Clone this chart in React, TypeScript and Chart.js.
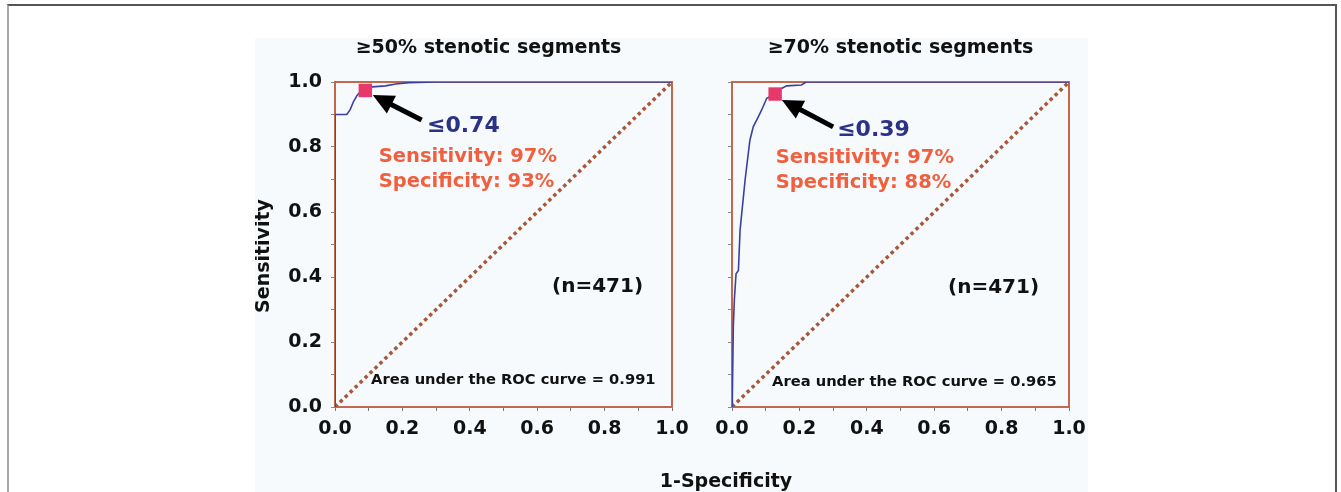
import React, { useEffect, useRef } from "react";
import { Chart, registerables } from "chart.js";

Chart.register(...registerables);

const FONT = "'DejaVu Sans', Verdana, sans-serif";

// ---------- data ----------
const tickValues = [0, 0.2, 0.4, 0.6, 0.8, 1.0];
const tickLabels = ["0.0", "0.2", "0.4", "0.6", "0.8", "1.0"];

const panelTitles = ["≥50% stenotic segments", "≥70% stenotic segments"];

const roc50X = [0, 0, 0.035, 0.045, 0.055, 0.065, 0.075, 0.09, 0.11, 0.15, 0.18, 0.22, 0.3, 1.0];
const roc50Y = [0, 0.9, 0.9, 0.915, 0.94, 0.958, 0.97, 0.975, 0.985, 0.988, 0.994, 0.998, 1.0, 1.0];

const roc70X = [0, 0.001, 0.004, 0.007, 0.012, 0.019, 0.024, 0.039, 0.053, 0.063, 0.078, 0.088, 0.103, 0.128, 0.147, 0.162, 0.206, 0.22, 1.0];
const roc70Y = [0, 0.03, 0.25, 0.33, 0.41, 0.42, 0.545, 0.7, 0.82, 0.862, 0.893, 0.914, 0.95, 0.963, 0.98, 0.988, 0.991, 1.0, 1.0];

const diagonalX = [0, 1];
const diagonalY = [0, 1];

const cutoffPointX = [0.09, 0.128];
const cutoffPointY = [0.974, 0.963];

const cutoffLabels = ["≤0.74", "≤0.39"];
const sensitivityLabels = ["Sensitivity: 97%", "Sensitivity: 97%"];
const specificityLabels = ["Specificity: 93%", "Specificity: 88%"];
const sampleLabels = ["(n=471)", "(n=471)"];
const aucLabels = ["Area under the ROC curve = 0.991", "Area under the ROC curve = 0.965"];

const yAxisTitle = "Sensitivity";
const xAxisTitle = "1-Specificity";

// ---------- styles ----------
const FRAME = "#c3694b";
const CURVE = "#3b40a0";
const DIAG = "#a8583a";
const MARKER = "#e8386a";
const NAVY = "#2b3286";
const ORANGE = "#f0603e";
const INK = "#111111";
const BG = "#f6fafc";

type Layout = {
  left: number;
  width: number;
  yWidth: number;
  padRight: number;
  titleX: number;
  showYLabels: boolean;
  showYTitle: boolean;
  arrowFrom: [number, number];
  arrowTo: [number, number];
  cutoffPos: [number, number];
  sensPos: [number, number];
  specPos: [number, number];
  nPos: [number, number];
  aucPos: [number, number];
};

const layouts: Layout[] = [
  {
    left: 255,
    width: 445,
    yWidth: 80,
    padRight: 28,
    titleX: 233.5,
    showYLabels: true,
    showYTitle: true,
    arrowFrom: [0.257, 0.883],
    arrowTo: [0.112, 0.96],
    cutoffPos: [0.273, 0.846],
    sensPos: [0.13, 0.755],
    specPos: [0.13, 0.678],
    nPos: [0.644, 0.355],
    aucPos: [0.107, 0.071],
  },
  {
    left: 700,
    width: 394,
    yWidth: 32,
    padRight: 25,
    titleX: 200.5,
    showYLabels: false,
    showYTitle: false,
    arrowFrom: [0.3, 0.862],
    arrowTo: [0.148, 0.945],
    cutoffPos: [0.312, 0.834],
    sensPos: [0.13, 0.752],
    specPos: [0.13, 0.673],
    nPos: [0.641, 0.35],
    aucPos: [0.119, 0.066],
  },
];

function drawArrow(ctx: CanvasRenderingContext2D, x1: number, y1: number, x2: number, y2: number) {
  const ang = Math.atan2(y2 - y1, x2 - x1);
  const headLen = 21;
  const headW = 10;
  const bx = x2 - headLen * Math.cos(ang);
  const by = y2 - headLen * Math.sin(ang);
  ctx.save();
  ctx.strokeStyle = "#000";
  ctx.fillStyle = "#000";
  ctx.lineWidth = 5;
  ctx.lineCap = "butt";
  ctx.beginPath();
  ctx.moveTo(x1, y1);
  ctx.lineTo(bx + 2 * Math.cos(ang), by + 2 * Math.sin(ang));
  ctx.stroke();
  ctx.beginPath();
  ctx.moveTo(x2, y2);
  ctx.lineTo(bx + headW * Math.sin(ang), by - headW * Math.cos(ang));
  ctx.lineTo(bx - headW * Math.sin(ang), by + headW * Math.cos(ang));
  ctx.closePath();
  ctx.fill();
  ctx.restore();
}

function Panel({ index }: { index: number }) {
  const ref = useRef<HTMLCanvasElement | null>(null);
  const L = layouts[index];

  useEffect(() => {
    if (!ref.current) return;
    const rocX = index === 0 ? roc50X : roc70X;
    const rocY = index === 0 ? roc50Y : roc70Y;

    const decor = {
      id: "panelDecor" + index,
      beforeDatasetsDraw(chart: any) {
        const { ctx, chartArea: a } = chart;
        ctx.save();
        ctx.strokeStyle = FRAME;
        ctx.lineWidth = 2;
        ctx.strokeRect(a.left, a.top, a.right - a.left, a.bottom - a.top);
        ctx.restore();
      },
      afterDatasetsDraw(chart: any) {
        const ctx: CanvasRenderingContext2D = chart.ctx;
        const xs = chart.scales.x;
        const ys = chart.scales.y;
        const px = (v: number) => xs.getPixelForValue(v);
        const py = (v: number) => ys.getPixelForValue(v);

        drawArrow(ctx, px(L.arrowFrom[0]), py(L.arrowFrom[1]), px(L.arrowTo[0]), py(L.arrowTo[1]));

        ctx.save();
        ctx.textAlign = "left";
        ctx.textBaseline = "alphabetic";

        ctx.fillStyle = NAVY;
        ctx.font = `bold 22px ${FONT}`;
        ctx.fillText(cutoffLabels[index], px(L.cutoffPos[0]), py(L.cutoffPos[1]));

        ctx.fillStyle = ORANGE;
        ctx.font = `bold 19.5px ${FONT}`;
        ctx.fillText(sensitivityLabels[index], px(L.sensPos[0]), py(L.sensPos[1]));
        ctx.fillText(specificityLabels[index], px(L.specPos[0]), py(L.specPos[1]));

        ctx.fillStyle = INK;
        ctx.font = `bold 20px ${FONT}`;
        ctx.fillText(sampleLabels[index], px(L.nPos[0]), py(L.nPos[1]));

        ctx.font = `bold 14.7px ${FONT}`;
        ctx.fillText(aucLabels[index], px(L.aucPos[0]), py(L.aucPos[1]));

        // panel title
        ctx.textAlign = "center";
        ctx.font = `bold 19px ${FONT}`;
        ctx.fillText(panelTitles[index], L.titleX, 15);

        if (L.showYTitle) {
          ctx.translate(9, 218);
          ctx.rotate(-Math.PI / 2);
          ctx.textAlign = "center";
          ctx.textBaseline = "middle";
          ctx.font = `bold 19px ${FONT}`;
          ctx.fillText(yAxisTitle, 0, 0);
        }
        ctx.restore();
      },
    };

    const tickFont = { family: FONT, size: 19, weight: "bold" as const };
    const labelFor = (v: any) => {
      const k = tickValues.findIndex((t) => Math.abs(t - Number(v)) < 1e-6);
      return k >= 0 ? tickLabels[k] : "";
    };

    const chart = new Chart(ref.current, {
      type: "scatter",
      data: {
        datasets: [
          {
            label: "cut-off",
            data: [{ x: cutoffPointX[index], y: cutoffPointY[index] }],
            pointStyle: "rect",
            pointRadius: 9.5,
            backgroundColor: MARKER,
            borderColor: MARKER,
            borderWidth: 0,
            showLine: false,
          },
          {
            label: "ROC",
            data: rocX.map((x, i) => ({ x, y: rocY[i] })),
            showLine: true,
            borderColor: CURVE,
            borderWidth: 1.6,
            pointRadius: 0,
            tension: 0,
            fill: false,
          },
          {
            label: "reference",
            data: diagonalX.map((x, i) => ({ x, y: diagonalY[i] })),
            showLine: true,
            borderColor: DIAG,
            borderWidth: 3.5,
            borderDash: [3.5, 3.4],
            pointRadius: 0,
            fill: false,
          },
        ],
      },
      options: {
        animation: false,
        responsive: false,
        maintainAspectRatio: false,
        layout: { padding: { left: 0, top: 44, right: L.padRight, bottom: 0 } },
        plugins: {
          legend: { display: false },
          tooltip: { enabled: false },
          title: { display: false },
        },
        scales: {
          x: {
            type: "linear",
            min: 0,
            max: 1,
            border: { display: false },
            grid: {
              drawOnChartArea: false,
              drawTicks: true,
              tickLength: 4,
              tickColor: "#777",
              tickWidth: 1,
            },
            ticks: {
              stepSize: 0.1,
              autoSkip: false,
              maxRotation: 0,
              minRotation: 0,
              padding: 7,
              color: INK,
              font: tickFont,
              callback: labelFor,
            },
            afterFit: (s: any) => {
              s.height = 85;
            },
          },
          y: {
            type: "linear",
            min: 0,
            max: 1,
            border: { display: false },
            grid: {
              drawOnChartArea: false,
              drawTicks: true,
              tickLength: 4,
              tickColor: "#888",
              tickWidth: 1,
            },
            ticks: {
              stepSize: 0.1,
              autoSkip: false,
              padding: 9,
              color: INK,
              font: tickFont,
              callback: (v: any) => (L.showYLabels ? labelFor(v) : ""),
            },
            afterFit: (s: any) => {
              s.width = L.yWidth;
            },
          },
        },
      },
      plugins: [decor],
    });
    return () => chart.destroy();
  }, [index]);

  return (
    <canvas
      ref={ref}
      width={L.width}
      height={454}
      style={{ position: "absolute", left: L.left, top: 38, width: L.width, height: 454 }}
    />
  );
}

export default function App() {
  return (
    <div
      style={{
        position: "absolute",
        left: 0,
        top: 0,
        width: 1341,
        height: 492,
        overflow: "hidden",
        background: "#ffffff",
      }}
    >
      <div
        style={{
          position: "absolute",
          left: 7,
          top: 4,
          width: 1326,
          height: 520,
          borderTop: "2px solid #555",
          borderLeft: "2px solid #aaa",
          borderRight: "2px solid #555",
          boxSizing: "content-box",
        }}
      />
      <div style={{ position: "absolute", left: 255, top: 38, width: 833, height: 454, background: BG }} />
      <Panel index={0} />
      <Panel index={1} />
      <div
        style={{
          position: "absolute",
          left: 626,
          top: 469,
          width: 200,
          textAlign: "center",
          fontFamily: FONT,
          fontWeight: "bold",
          fontSize: 19,
          lineHeight: "22px",
          color: INK,
        }}
      >
        {xAxisTitle}
      </div>
    </div>
  );
}
